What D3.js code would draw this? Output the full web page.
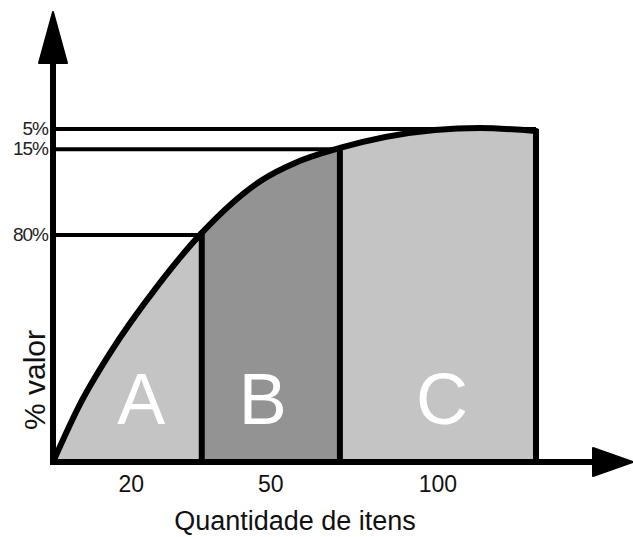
<!DOCTYPE html>
<meta charset="utf-8">
<script src="https://d3js.org/d3.v7.min.js"></script>
<style>
body { margin: 0; background: #fff; }
text { font-family: "Liberation Sans", Arial, sans-serif; }
</style>
<div id="abc"></div>
<script>
  // curve: cumulative % of items (x) vs cumulative value (y)
  var curveX = [0, 5.6, 11.8, 21.5, 30.8, 43.3, 50.1, 59.4, 79.1, 88.4, 100];
  var curveY = [0, 17.4, 32.7, 52.6, 68.8, 84.7, 89.8, 94.3, 99.7, 100.3, 99.4];

  // ABC classes
  var classNames = ["A", "B", "C"];
  var classStart = [0, 30.8, 59.4];
  var classEnd = [30.8, 59.4, 100];
  var classItems = ["20", "50", "100"];

  // reference levels on the value axis
  var refLevels = [100, 93.9, 68.2];
  var refLabels = ["5%", "15%", "80%"];
  var refEnd = [100, 59.4, 30.8];

  var width = 633, height = 537;

  var svg = d3.select("#abc")
    .append("svg")
      .attr("width", width)
      .attr("height", height);

  var x = d3.scaleLinear().domain([0, 100]).range([53, 536]);
  var y = d3.scaleLinear().domain([0, 100]).range([462, 129]);

  var pts = curveX.map(function(d, i){ return [d, curveY[i]]; });
  var valueAt = function(v){
    var p = pts.find(function(d){ return d[0] === v; });
    return p ? p[1] : 0;
  };

  var area = d3.area()
    .x(function(d){ return x(d[0]); })
    .y0(y(0))
    .y1(function(d){ return y(d[1]); })
    .curve(d3.curveMonotoneX);

  var line = d3.line()
    .x(function(d){ return x(d[0]); })
    .y(function(d){ return y(d[1]); })
    .curve(d3.curveMonotoneX);

  var fills = ["#c4c4c4", "#939393", "#c4c4c4"];

  // clip each class out of the area under the curve
  var defs = svg.append("defs");
  classNames.forEach(function(c, i){
    defs.append("clipPath")
      .attr("id", "clip" + c)
      .append("rect")
        .attr("x", x(classStart[i]))
        .attr("y", 0)
        .attr("width", x(classEnd[i]) - x(classStart[i]))
        .attr("height", y(0));
    svg.append("path")
      .datum(pts)
      .attr("d", area)
      .attr("clip-path", "url(#clip" + c + ")")
      .style("fill", fills[i]);
  });

  // horizontal reference lines
  svg.selectAll("refline")
    .data(refLevels)
    .enter()
    .append("line")
      .attr("x1", x(0))
      .attr("x2", function(d, i){ return x(refEnd[i]); })
      .attr("y1", function(d){ return y(d); })
      .attr("y2", function(d){ return y(d); })
      .style("stroke", "#000")
      .style("stroke-width", 4);

  svg.selectAll("reflabel")
    .data(refLevels)
    .enter()
    .append("text")
      .attr("x", 48)
      .attr("y", function(d){ return y(d) + 6; })
      .attr("text-anchor", "end")
      .style("font-size", "19px")
      .style("letter-spacing", "-1px")
      .style("fill", "#222")
      .text(function(d, i){ return refLabels[i]; });

  // class dividers
  svg.selectAll("divider")
    .data(classEnd)
    .enter()
    .append("line")
      .attr("x1", function(d){ return x(d); })
      .attr("x2", function(d){ return x(d); })
      .attr("y1", y(0))
      .attr("y2", function(d){ return y(valueAt(d)) - 2; })
      .style("stroke", "#000")
      .style("stroke-width", 6);

  // the curve
  svg.append("path")
    .datum(pts)
    .attr("d", line)
    .style("fill", "none")
    .style("stroke", "#000")
    .style("stroke-width", 6)
    .style("stroke-linecap", "round");

  // axes with arrows
  svg.append("line")
    .attr("x1", x(0)).attr("x2", x(0))
    .attr("y1", y(0) + 3).attr("y2", 60)
    .style("stroke", "#000").style("stroke-width", 6);
  svg.append("path")
    .attr("d", "M" + x(0) + ",12 L" + (x(0) + 14) + ",63 L" + (x(0) - 14) + ",63 Z")
    .style("fill", "#000").style("stroke", "#000").style("stroke-width", 2)
    .style("stroke-linejoin", "round");

  svg.append("line")
    .attr("x1", x(0) - 3).attr("x2", 596)
    .attr("y1", y(0)).attr("y2", y(0))
    .style("stroke", "#000").style("stroke-width", 6);
  svg.append("path")
    .attr("d", "M633," + y(0) + " L593," + (y(0) - 14) + " L593," + (y(0) + 14) + " Z")
    .style("fill", "#000").style("stroke", "#000").style("stroke-width", 2)
    .style("stroke-linejoin", "round");

  // class letters
  var letterShift = [14, -8, 4];
  svg.selectAll("classletter")
    .data(classNames)
    .enter()
    .append("text")
      .attr("x", function(d, i){ return (x(classStart[i]) + x(classEnd[i])) / 2 + letterShift[i]; })
      .attr("y", 424)
      .attr("text-anchor", "middle")
      .style("font-size", "72px")
      .style("fill", "#fff")
      .text(function(d){ return d; });

  // item counts
  svg.selectAll("itemlabel")
    .data(classItems)
    .enter()
    .append("text")
      .attr("x", function(d, i){ return (x(classStart[i]) + x(classEnd[i])) / 2 + (i === 0 ? 4 : 0); })
      .attr("y", 492)
      .attr("text-anchor", "middle")
      .style("font-size", "23px")
      .style("fill", "#111")
      .text(function(d){ return d; });

  svg.append("text")
    .attr("x", 295)
    .attr("y", 530)
    .attr("text-anchor", "middle")
    .style("font-size", "27px")
    .style("fill", "#111")
    .text("Quantidade de itens");

  svg.append("text")
    .attr("transform", "translate(45,380) rotate(-90)")
    .attr("text-anchor", "middle")
    .style("font-size", "30px")
    .style("fill", "#111")
    .text("% valor");
</script>
